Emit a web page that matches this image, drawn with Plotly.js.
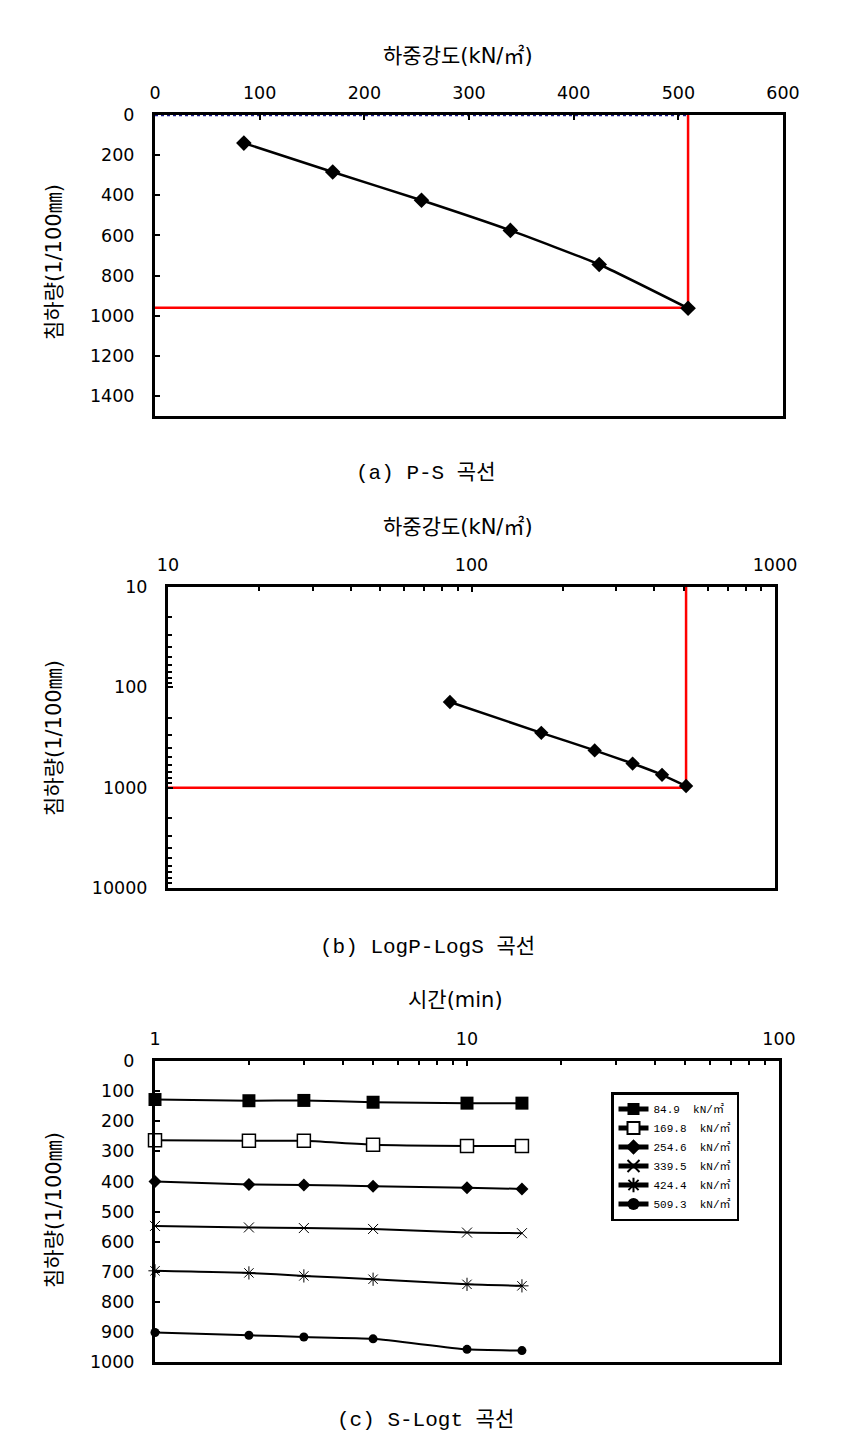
<!DOCTYPE html>
<html>
<head>
<meta charset="utf-8">
<script src="https://cdn.plot.ly/plotly-3.0.1.min.js"></script>
<style>
html,body{margin:0;padding:0;background:#fff;}
#chart{width:856px;height:1452px;}
</style>
</head>
<body>
<div id="chart"></div>
<script>
// ---- data ----
const loadsKN = [84.9, 169.8, 254.6, 339.5, 424.4, 509.3];
const settlement = [140, 284, 425, 575, 745, 963];
const limitLoad = 509.3;
const limitSettleLin = 960;
const limitSettleLog = 1000;
const timesMin = [1, 2, 3, 5, 10, 15];
const s849 = [128, 132, 131, 137, 140, 140];
const s1698 = [263, 265, 265, 278, 282, 282];
const s2546 = [400, 410, 412, 416, 421, 425];
const s3395 = [548, 553, 555, 558, 570, 572];
const s4244 = [697, 704, 714, 725, 742, 747];
const s5093 = [902, 911, 917, 923, 958, 962];
const seriesNames = ['84.9  kN/㎡', '169.8  kN/㎡', '254.6  kN/㎡', '339.5  kN/㎡', '424.4  kN/㎡', '509.3  kN/㎡'];
const psXTicks = [0, 100, 200, 300, 400, 500, 600];
const psYTicks = [0, 200, 400, 600, 800, 1000, 1200, 1400];
const logPTicks = [10, 100, 1000];
const logSTicks = [10, 100, 1000, 10000];
const timeTicks = [1, 10, 100];
const stYTicks = [0, 100, 200, 300, 400, 500, 600, 700, 800, 900, 1000];
const xTitle = '하중강도(kN/㎡)';
const yTitle = '침하량(1/100㎜)';
const tTitle = '시간(min)';
const captions = ['(a) P-S 곡선', '(b) LogP-LogS 곡선', '(c) S-Logt 곡선'];

// ---- geometry ----
const W = 856, H = 1452;
const px = v => v / W;
const py = v => 1 - v / H;
const tickFont = {family: 'DejaVu Sans, Noto Sans CJK KR', size: 17.5, color: '#000'};
const titleFont = {family: 'DejaVu Sans, Noto Sans CJK KR', size: 21, color: '#000'};
const capFont = {family: 'Liberation Mono, Noto Sans CJK KR', size: 21, color: '#000'};

function axisBase(extra) {
  return Object.assign({
    showline: true, linecolor: '#000', linewidth: 3, mirror: true,
    showgrid: false, zeroline: false, ticks: 'inside', ticklen: 5, tickwidth: 2,
    tickcolor: '#000', tickfont: tickFont, automargin: false, fixedrange: true
  }, extra);
}
function ann(text, x, y, font, angle) {
  return {text: text, x: px(x), y: py(y), xref: 'paper', yref: 'paper', showarrow: false,
    xanchor: 'center', yanchor: 'middle', font: font, textangle: angle || 0};
}

const red = {color: '#ff0000', width: 2.5};
const blk = {color: '#000', width: 2.5, shape: 'spline', smoothing: 0.5};

const traces = [
  // chart (a)
  {x: [0, limitLoad], y: [0, 0], xaxis: 'x', yaxis: 'y', mode: 'lines', cliponaxis: false,
   line: {color: '#1a1a8c', width: 2.5, dash: 'dot'}, showlegend: false, hoverinfo: 'skip'},
  {x: [0, limitLoad, limitLoad], y: [limitSettleLin, limitSettleLin, 0], xaxis: 'x', yaxis: 'y',
   mode: 'lines', line: red, showlegend: false, cliponaxis: false},
  {x: loadsKN, y: settlement, xaxis: 'x', yaxis: 'y', mode: 'lines+markers', line: blk,
   marker: {symbol: 'diamond', size: 12, color: '#000'}, showlegend: false, cliponaxis: false},
  // chart (b)
  {x: [10, limitLoad, limitLoad], y: [limitSettleLog, limitSettleLog, 10], xaxis: 'x2', yaxis: 'y2',
   mode: 'lines', line: red, showlegend: false, cliponaxis: false},
  {x: loadsKN, y: settlement, xaxis: 'x2', yaxis: 'y2', mode: 'lines+markers', line: blk,
   marker: {symbol: 'diamond', size: 11, color: '#000'}, showlegend: false, cliponaxis: false},
];

const sSeries = [s849, s1698, s2546, s3395, s4244, s5093];
const sMarkers = [
  {symbol: 'square', size: 13, color: '#000'},
  {symbol: 'square', size: 13, color: '#fff', line: {color: '#000', width: 1.5}},
  {symbol: 'diamond', size: 10, color: '#000'},
  {symbol: 'x-thin-open', size: 10, color: '#000', line: {color: '#000', width: 1}},
  {symbol: 'asterisk-open', size: 11, color: '#000', line: {color: '#000', width: 1}},
  {symbol: 'circle', size: 9, color: '#000'}
];
sSeries.forEach((s, i) => {
  traces.push({x: timesMin, y: s, xaxis: 'x3', yaxis: 'y3', mode: 'lines+markers', name: seriesNames[i],
    line: {color: '#000', width: 2, shape: 'spline', smoothing: 0.5}, marker: sMarkers[i], cliponaxis: false});
});

const layout = {
  width: W, height: H, margin: {l: 0, r: 0, t: 0, b: 0},
  paper_bgcolor: '#fff', plot_bgcolor: '#fff', showlegend: true,
  font: {family: 'Noto Sans CJK KR', color: '#000'},
  xaxis: axisBase({domain: [px(155), px(783)], anchor: 'y', side: 'top', range: [0, 600],
    tickvals: psXTicks, ticktext: psXTicks.map(String), ticklabelstandoff: 6}),
  yaxis: axisBase({domain: [py(416), py(115)], anchor: 'x', range: [1500, 0],
    tickvals: psYTicks, ticktext: psYTicks.map(String), ticklabelstandoff: 14}),
  xaxis2: axisBase({domain: [px(168), px(775)], anchor: 'y2', side: 'top', type: 'log', range: [1, 3],
    tickvals: logPTicks, ticktext: logPTicks.map(String), ticklabelstandoff: 6,
    minor: {ticks: 'inside', ticklen: 4, tickwidth: 2, tickcolor: '#000', dtick: 'D1'}}),
  yaxis2: axisBase({domain: [py(888), py(587)], anchor: 'x2', type: 'log', range: [4, 1],
    tickvals: logSTicks, ticktext: logSTicks.map(String), ticklabelstandoff: 14,
    minor: {ticks: 'inside', ticklen: 4, tickwidth: 2, tickcolor: '#000', dtick: 'D1'}}),
  xaxis3: axisBase({domain: [px(155), px(779)], anchor: 'y3', side: 'top', type: 'log', range: [0, 2],
    tickvals: timeTicks, ticktext: timeTicks.map(String), ticklabelstandoff: 6,
    minor: {ticks: 'inside', ticklen: 4, tickwidth: 2, tickcolor: '#000', dtick: 'D1'}}),
  yaxis3: axisBase({domain: [py(1362), py(1061)], anchor: 'x3', range: [1000, 0],
    tickvals: stYTicks, ticktext: stYTicks.map(String), ticklabelstandoff: 14}),
  legend: {x: px(611), y: py(1092), xanchor: 'left', yanchor: 'top', bgcolor: '#fff',
    bordercolor: '#000', borderwidth: 2.5, itemsizing: 'constant',
    font: {family: 'Liberation Mono, Noto Sans CJK KR', size: 11, color: '#000'},
    itemwidth: 30, tracegroupgap: 0},
  annotations: [
    ann(xTitle, 458, 56, titleFont),
    ann(xTitle, 458, 527, titleFont),
    ann(tTitle, 455, 1000, titleFont),
    ann(yTitle, 54, 262, titleFont, -90),
    ann(yTitle, 54, 738, titleFont, -90),
    ann(yTitle, 54, 1210, titleFont, -90),
    ann(captions[0], 425, 473, capFont),
    ann(captions[1], 427, 947, capFont),
    ann(captions[2], 425, 1420, capFont)
  ]
};

Plotly.newPlot('chart', traces, layout, {staticPlot: true, displayModeBar: false});
</script>
</body>
</html>
